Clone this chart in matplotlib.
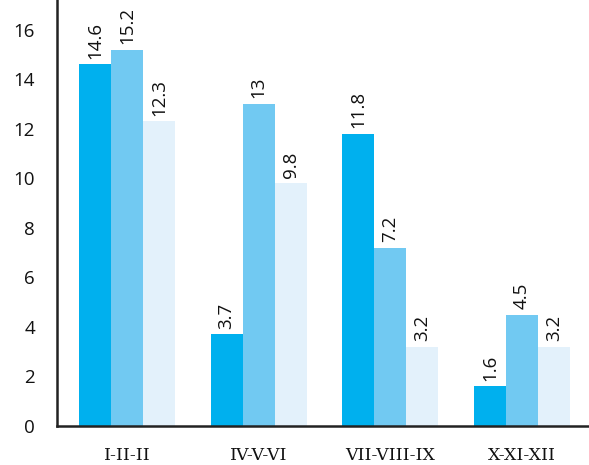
import numpy as np
import matplotlib.pyplot as plt

categories = ["I-II-II", "IV-V-VI", "VII-VIII-IX", "X-XI-XII"]
series_a = [14.6, 3.7, 11.8, 1.6]
series_b = [15.2, 13, 7.2, 4.5]
series_c = [12.3, 9.8, 3.2, 3.2]
yticks = [0, 2, 4, 6, 8, 10, 12, 14, 16]

colors = ["#00B0EE", "#71C9F2", "#E3F1FB"]

fig = plt.figure(figsize=(5.89, 4.65), dpi=100)
ax = fig.add_axes([0.097, 0.084, 0.903, 0.916])

x = np.arange(len(categories))
width = 0.243

for i, (vals, c) in enumerate(zip([series_a, series_b, series_c], colors)):
    pos = x + (i - 1) * width
    ax.bar(pos, vals, width=width, color=c, linewidth=0)
    for px, v in zip(pos, vals):
        ax.annotate(f"{v:g}", (px, v), xytext=(0, 4), textcoords="offset points",
                    rotation=90, ha="center", va="bottom", fontsize=13.5,
                    color="#111111", family="Open Sans")

ax.set_xlim(-0.53, 3.51)
ax.set_ylim(0, 17.2)
ax.set_yticks(yticks)
ax.set_yticklabels([str(t) for t in yticks], fontsize=13.5, family="Open Sans", color="#111111")
ax.set_xticks(x)
ax.set_xticklabels(categories, fontsize=12.5, family="DejaVu Serif", color="#111111")
ax.tick_params(axis="both", length=0)
ax.tick_params(axis="y", pad=16)
ax.tick_params(axis="x", pad=15)

for s in ["top", "right"]:
    ax.spines[s].set_visible(False)
ax.spines["left"].set_linewidth(1.8)
ax.spines["bottom"].set_linewidth(1.8)
ax.spines["left"].set_color("#222222")
ax.spines["bottom"].set_color("#222222")

fig.savefig("out.png", dpi=100)
